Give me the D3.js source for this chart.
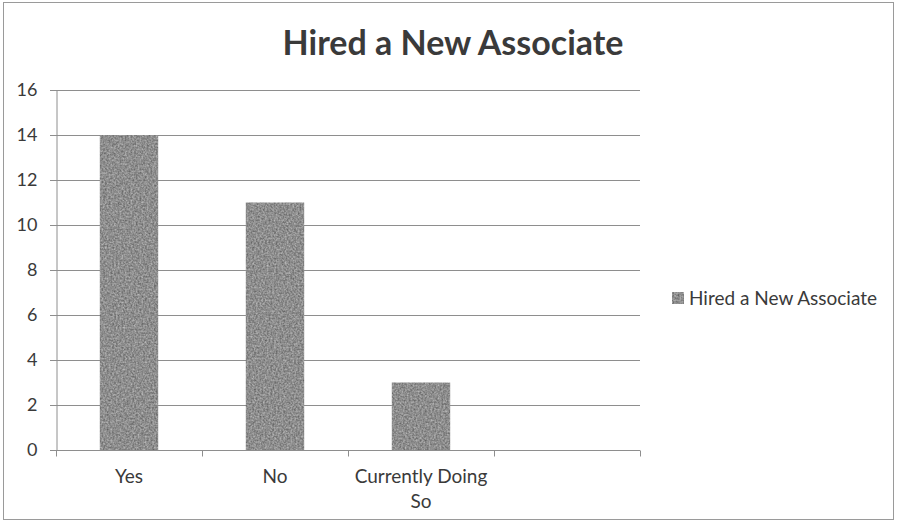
<!DOCTYPE html>
<html>
<head>
<meta charset="utf-8">
<script src="https://cdn.jsdelivr.net/npm/d3@7"></script>
<style>
  html, body { margin: 0; padding: 0; background: #fff; }
  svg { display: block; }
  text { font-family: Lato, "Open Sans", "Liberation Sans", sans-serif; fill: #3a3a3a; }
</style>
</head>
<body>
<svg id="chart" width="898" height="529"></svg>
<script>
// Survey responses
const title = "Hired a New Associate";
const seriesName = "Hired a New Associate";
const categories = ["Yes", "No", "Currently Doing So", ""];
const values = [14, 11, 3, null];
const yTicks = [0, 2, 4, 6, 8, 10, 12, 14, 16];

const svg = d3.select("#chart");
const plot = { left: 56, right: 640, top: 90, bottom: 450 };
const labelSize = 19;

// Grainy grey fill for the bars
const defs = svg.append("defs");
const f = defs.append("filter").attr("id", "grain")
  .attr("x", 0).attr("y", 0).attr("width", 1).attr("height", 1)
  .attr("color-interpolation-filters", "sRGB");
f.append("feTurbulence").attr("type", "fractalNoise")
  .attr("baseFrequency", 0.55).attr("numOctaves", 2).attr("seed", 3).attr("result", "noise");
f.append("feColorMatrix").attr("in", "noise").attr("type", "matrix")
  .attr("values", "0.45 0 0 0 0.33  0.45 0 0 0 0.33  0.45 0 0 0 0.33  0 0 0 0 1")
  .attr("result", "grey");
f.append("feComposite").attr("in", "grey").attr("in2", "SourceGraphic").attr("operator", "in");

// Chart frame
svg.append("rect").attr("x", 3.5).attr("y", 2.5).attr("width", 890).attr("height", 517)
  .attr("fill", "#fff").attr("stroke", "#9a9a9a").attr("stroke-width", 1);

const x = d3.scaleBand().domain(categories).range([plot.left, plot.right]).paddingInner(0).paddingOuter(0);
const y = d3.scaleLinear().domain([0, 16]).range([plot.bottom, plot.top]);

// Horizontal gridlines
svg.append("g").selectAll("line").data(yTicks.filter(d => d > 0)).join("line")
  .attr("x1", plot.left - 6).attr("x2", plot.right)
  .attr("y1", d => Math.round(y(d)) + 0.5).attr("y2", d => Math.round(y(d)) + 0.5)
  .attr("stroke", "#8e8e8e").attr("stroke-width", 1.2);

// Y axis
const yAxis = svg.append("g").attr("transform", `translate(${plot.left + 0.5},0)`)
  .call(d3.axisLeft(y).tickValues(yTicks).tickSize(6).tickPadding(13).tickFormat(d3.format("d")));
yAxis.select(".domain").attr("stroke", "#8e8e8e");
yAxis.selectAll(".tick line").attr("stroke", "#8e8e8e");
yAxis.selectAll(".tick text").attr("font-size", 18)
  .style("font-family", "Lato, 'Open Sans', sans-serif").attr("fill", "#3a3a3a");

// Bars
const barW = x.bandwidth() * 0.4;
svg.append("g").selectAll("rect")
  .data(categories.map((c, i) => ({ c, v: values[i] })).filter(d => d.v != null))
  .join("rect")
  .attr("x", d => x(d.c) + (x.bandwidth() - barW) / 2)
  .attr("y", d => y(d.v))
  .attr("width", barW)
  .attr("height", d => y(0) - y(d.v))
  .attr("fill", "#8c8c8c")
  .attr("filter", "url(#grain)");

// X axis with tick marks at category boundaries
const xAxisG = svg.append("g").attr("transform", `translate(0,${plot.bottom + 0.5})`);
xAxisG.append("line").attr("x1", plot.left - 6).attr("x2", plot.right).attr("stroke", "#8e8e8e").attr("stroke-width", 1.2);
const bounds = categories.map(c => x(c)).concat([plot.right]);
xAxisG.selectAll("line.tk").data(bounds).join("line").attr("class", "tk")
  .attr("x1", d => Math.round(d) + 0.5).attr("x2", d => Math.round(d) + 0.5)
  .attr("y1", 0).attr("y2", 6).attr("stroke", "#8e8e8e");

// Category labels, wrapped to the band width
const maxW = x.bandwidth() - 8;
categories.forEach(c => {
  if (!c) return;
  const cx = x(c) + x.bandwidth() / 2;
  const t = svg.append("text").attr("text-anchor", "middle").attr("font-size", labelSize)
    .attr("x", cx).attr("y", 483);
  let line = [];
  let ts = t.append("tspan").attr("x", cx).attr("dy", 0);
  c.split(" ").forEach(w => {
    line.push(w);
    ts.text(line.join(" "));
    if (ts.node().getComputedTextLength() > maxW && line.length > 1) {
      line.pop();
      ts.text(line.join(" "));
      line = [w];
      ts = t.append("tspan").attr("x", cx).attr("dy", 25).text(w);
    }
  });
});

// Title, sized to its measured width
const tt = svg.append("text").attr("x", 453).attr("y", 55).attr("text-anchor", "middle")
  .attr("font-weight", "bold").attr("font-size", 30).attr("fill", "#404040").text(title);
const tw = tt.node().getComputedTextLength();
tt.attr("font-size", 30 * 341 / tw);

// Legend
const lg = svg.append("g");
lg.append("rect").attr("x", 672).attr("y", 292).attr("width", 12).attr("height", 12)
  .attr("fill", "#8c8c8c").attr("filter", "url(#grain)");
lg.append("text").attr("x", 689).attr("y", 305).attr("font-size", labelSize).text(seriesName);
</script>
</body>
</html>
